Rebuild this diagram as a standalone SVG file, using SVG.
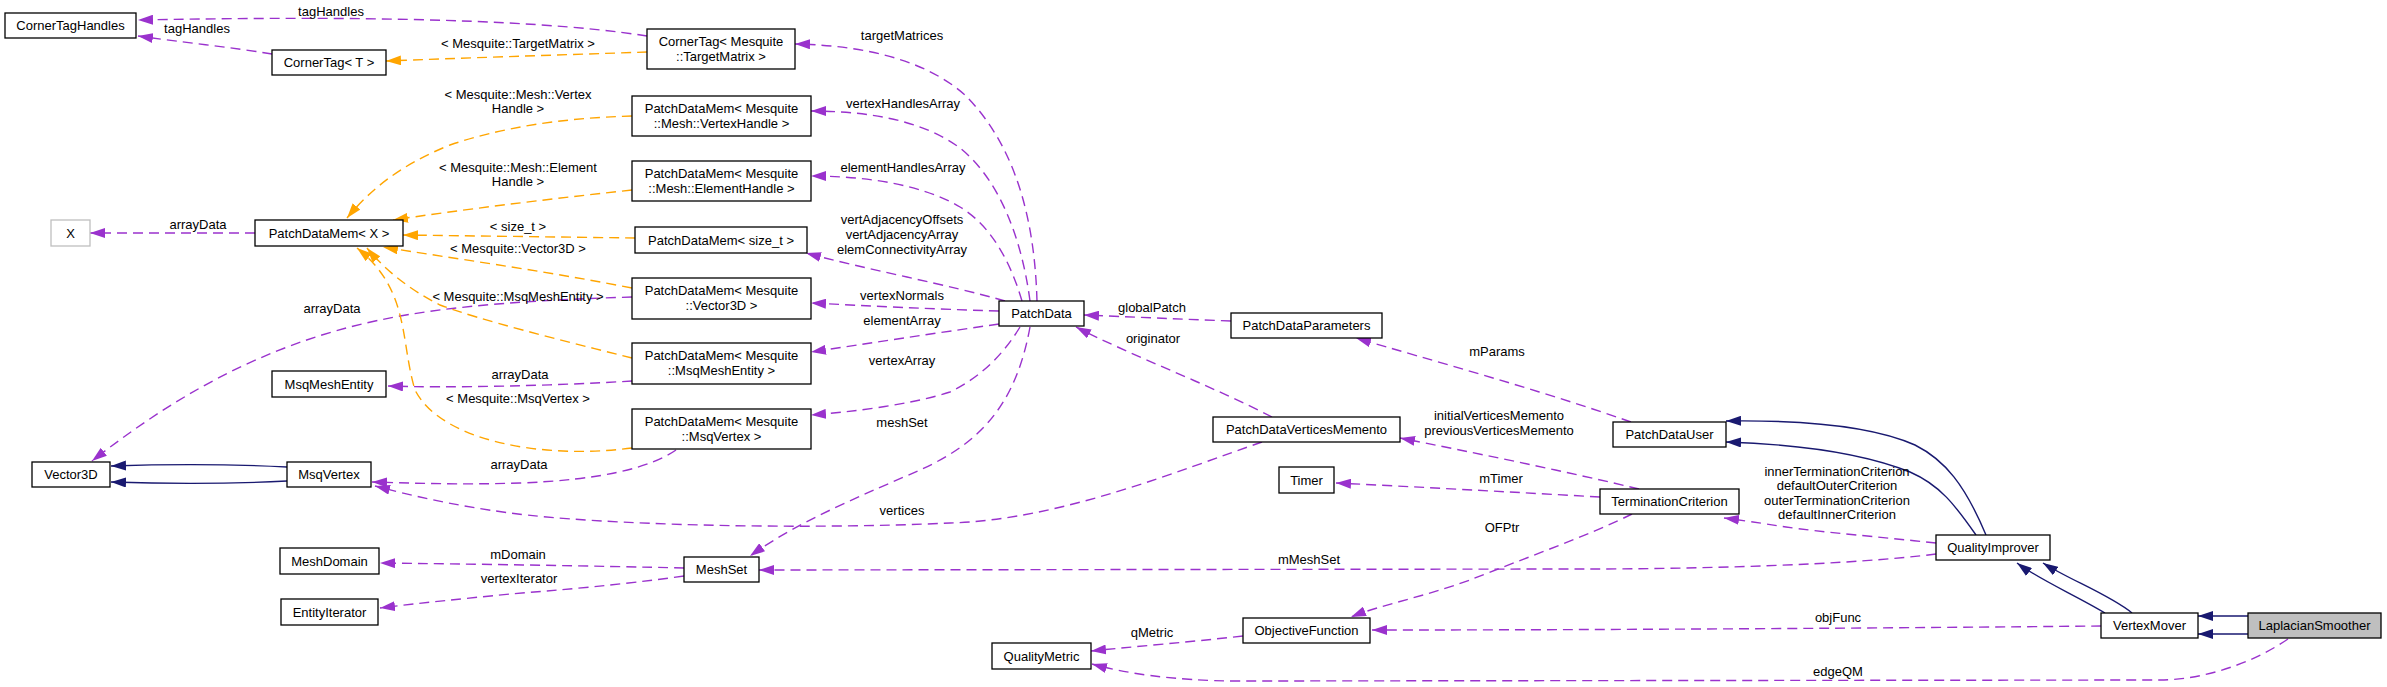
<svg xmlns="http://www.w3.org/2000/svg" width="2387" height="687" viewBox="0 0 2387 687">
<style>
text{font-family:"Liberation Sans",Arial,sans-serif;font-size:13px;fill:#000}
.n rect{fill:#fff;stroke:#000;stroke-width:1.3}
.n text{text-anchor:middle}
.l{text-anchor:middle}
.p{fill:none;stroke:#9a32cd;stroke-width:1.4;stroke-dasharray:10,6}
.o{fill:none;stroke:#ffa500;stroke-width:1.4;stroke-dasharray:10,6}
.b{fill:none;stroke:#191970;stroke-width:1.4}
</style>
<defs>
<marker id="ap" viewBox="0 0 15 10" refX="15" refY="5" markerWidth="15" markerHeight="10" markerUnits="userSpaceOnUse" orient="auto"><path d="M0,0 L15,5 L0,10 z" fill="#9a32cd"/></marker>
<marker id="ao" viewBox="0 0 15 10" refX="15" refY="5" markerWidth="15" markerHeight="10" markerUnits="userSpaceOnUse" orient="auto"><path d="M0,0 L15,5 L0,10 z" fill="#ffa500"/></marker>
<marker id="ab" viewBox="0 0 15 10" refX="15" refY="5" markerWidth="15" markerHeight="10" markerUnits="userSpaceOnUse" orient="auto"><path d="M0,0 L15,5 L0,10 z" fill="#191970"/></marker>
</defs>
<rect width="2387" height="687" fill="#fff"/>
<g id="connectors">
<path class="p" marker-end="url(#ap)" d="M647,36 C520,16 300,17 138,20"/>
<path class="p" marker-end="url(#ap)" d="M272,54 C230,47 180,42 138,36"/>
<path class="o" marker-end="url(#ao)" d="M647,52 C560,55 460,58 386,61"/>
<path class="p" marker-end="url(#ap)" d="M1037,301 C1035,230 1020,150 965,95 C920,55 850,45 795,44"/>
<path class="p" marker-end="url(#ap)" d="M1030,301 C1022,240 1000,180 960,148 C920,118 860,111 811,111"/>
<path class="p" marker-end="url(#ap)" d="M1022,301 C1010,260 990,225 960,207 C920,183 860,176 811,176"/>
<path class="p" marker-end="url(#ap)" d="M1005,301 C950,285 860,268 806,253"/>
<path class="p" marker-end="url(#ap)" d="M999,311 C930,309 870,306 811,303"/>
<path class="p" marker-end="url(#ap)" d="M999,324 C930,334 870,343 811,352"/>
<path class="p" marker-end="url(#ap)" d="M1020,327 C1000,360 975,380 950,392 C910,405 850,412 811,415"/>
<path class="p" marker-end="url(#ap)" d="M1030,327 C1015,410 975,445 920,470 C870,492 800,520 750,556"/>
<path class="p" marker-end="url(#ap)" d="M632,297 C540,300 450,305 380,320 C260,345 170,400 92,461"/>
<path class="p" marker-end="url(#ap)" d="M632,381 C550,386 450,388 388,386"/>
<path class="p" marker-end="url(#ap)" d="M676,450 C650,468 600,480 520,483 C460,485 410,483 372,482"/>
<path class="p" marker-end="url(#ap)" d="M1262,442 C1180,470 1060,520 950,523 C800,530 600,525 510,513 C450,505 410,495 375,486"/>
<path class="p" marker-end="url(#ap)" d="M684,568 C600,566 470,564 380,563"/>
<path class="p" marker-end="url(#ap)" d="M684,576 C620,585 560,590 510,594 C460,599 420,603 380,608"/>
<path class="p" marker-end="url(#ap)" d="M1231,321 C1180,319 1130,317 1084,315"/>
<path class="p" marker-end="url(#ap)" d="M1272,417 C1210,385 1130,355 1076,327"/>
<path class="p" marker-end="url(#ap)" d="M1631,422 C1540,390 1430,360 1356,338"/>
<path class="p" marker-end="url(#ap)" d="M1639,489 C1560,470 1470,452 1400,438"/>
<path class="p" marker-end="url(#ap)" d="M1600,497 C1510,492 1420,487 1336,483"/>
<path class="p" marker-end="url(#ap)" d="M1632,514 C1590,535 1520,560 1470,580 C1420,598 1380,605 1351,617"/>
<path class="p" marker-end="url(#ap)" d="M1243,636 C1190,642 1140,646 1091,651"/>
<path class="p" marker-end="url(#ap)" d="M1936,543 C1880,537 1820,532 1786,527 C1760,523 1740,520 1724,518"/>
<path class="p" marker-end="url(#ap)" d="M1936,554 C1850,565 1700,569 1580,569 L759,570"/>
<path class="p" marker-end="url(#ap)" d="M2101,626 C1900,628 1600,630 1372,630"/>
<path class="p" marker-end="url(#ap)" d="M2288,639 C2250,665 2200,680 2160,680 L1240,681 C1170,681 1120,672 1092,664"/>
<path class="p" marker-end="url(#ap)" d="M255,233 L90,233"/>
<path class="o" marker-end="url(#ao)" d="M632,116 C560,118 500,128 450,145 C400,165 370,190 347,218"/>
<path class="o" marker-end="url(#ao)" d="M632,190 C540,200 460,210 393,220"/>
<path class="o" marker-end="url(#ao)" d="M635,238 C560,237 480,236 403,235"/>
<path class="o" marker-end="url(#ao)" d="M632,288 C540,270 450,258 383,247"/>
<path class="o" marker-end="url(#ao)" d="M632,358 C560,340 480,320 440,305 C410,290 385,270 367,248"/>
<path class="o" marker-end="url(#ao)" d="M632,448 C540,460 440,440 415,390 C400,340 410,290 357,248"/>
<path class="b" marker-end="url(#ab)" d="M1986,535 C1965,485 1945,460 1915,445 C1870,425 1800,420 1726,421"/>
<path class="b" marker-end="url(#ab)" d="M1976,535 C1955,505 1940,485 1910,472 C1860,452 1790,444 1726,442"/>
<path class="b" marker-end="url(#ab)" d="M2105,613 C2075,595 2040,580 2017,563"/>
<path class="b" marker-end="url(#ab)" d="M2132,613 C2110,595 2070,580 2043,563"/>
<path class="b" marker-end="url(#ab)" d="M2248,616 L2198,616"/>
<path class="b" marker-end="url(#ab)" d="M2248,634 L2198,634"/>
<path class="b" marker-end="url(#ab)" d="M287,467 C230,464 170,464 111,466"/>
<path class="b" marker-end="url(#ab)" d="M287,481 C230,484 170,484 111,482"/>
</g>
<g id="edge-labels">
<text class="l" x="331" y="16">tagHandles</text>
<text class="l" x="197" y="33">tagHandles</text>
<text class="l" x="518" y="48">&lt; Mesquite::TargetMatrix &gt;</text>
<text class="l" x="902" y="40">targetMatrices</text>
<text class="l" x="903" y="108">vertexHandlesArray</text>
<text class="l" x="903" y="172">elementHandlesArray</text>
<text class="l" x="902" y="224">vertAdjacencyOffsets</text>
<text class="l" x="902" y="239">vertAdjacencyArray</text>
<text class="l" x="902" y="254">elemConnectivityArray</text>
<text class="l" x="902" y="300">vertexNormals</text>
<text class="l" x="902" y="325">elementArray</text>
<text class="l" x="902" y="365">vertexArray</text>
<text class="l" x="902" y="427">meshSet</text>
<text class="l" x="332" y="313">arrayData</text>
<text class="l" x="520" y="379">arrayData</text>
<text class="l" x="519" y="469">arrayData</text>
<text class="l" x="902" y="515">vertices</text>
<text class="l" x="518" y="559">mDomain</text>
<text class="l" x="519" y="583">vertexIterator</text>
<text class="l" x="1152" y="312">globalPatch</text>
<text class="l" x="1153" y="343">originator</text>
<text class="l" x="1497" y="356">mParams</text>
<text class="l" x="1499" y="420">initialVerticesMemento</text>
<text class="l" x="1499" y="435">previousVerticesMemento</text>
<text class="l" x="1501" y="483">mTimer</text>
<text class="l" x="1502" y="532">OFPtr</text>
<text class="l" x="1152" y="637">qMetric</text>
<text class="l" x="1837" y="476">innerTerminationCriterion</text>
<text class="l" x="1837" y="490">defaultOuterCriterion</text>
<text class="l" x="1837" y="505">outerTerminationCriterion</text>
<text class="l" x="1837" y="519">defaultInnerCriterion</text>
<text class="l" x="1309" y="564">mMeshSet</text>
<text class="l" x="1838" y="622">objFunc</text>
<text class="l" x="1838" y="676">edgeQM</text>
<text class="l" x="198" y="229">arrayData</text>
<text class="l" x="518" y="99">&lt; Mesquite::Mesh::Vertex</text>
<text class="l" x="518" y="113">Handle &gt;</text>
<text class="l" x="518" y="172">&lt; Mesquite::Mesh::Element</text>
<text class="l" x="518" y="186">Handle &gt;</text>
<text class="l" x="518" y="231">&lt; size_t &gt;</text>
<text class="l" x="518" y="253">&lt; Mesquite::Vector3D &gt;</text>
<text class="l" x="518" y="301">&lt; Mesquite::MsqMeshEntity &gt;</text>
<text class="l" x="518" y="403">&lt; Mesquite::MsqVertex &gt;</text>
</g>
<g id="CornerTagHandles" class="n"><rect x="5" y="13" width="131" height="25"/><text x="70.5" y="30">CornerTagHandles</text></g>
<g id="CornerTagT" class="n"><rect x="272" y="50" width="114" height="25"/><text x="329" y="67">CornerTag&lt; T &gt;</text></g>
<g id="CornerTagTargetMatrix" class="n"><rect x="647" y="29" width="148" height="40"/><text x="721" y="45.5">CornerTag&lt; Mesquite</text><text x="721" y="60.5">::TargetMatrix &gt;</text></g>
<g id="PDMVertexHandle" class="n"><rect x="632" y="96" width="179" height="40"/><text x="721.5" y="112.5">PatchDataMem&lt; Mesquite</text><text x="721.5" y="127.5">::Mesh::VertexHandle &gt;</text></g>
<g id="PDMElementHandle" class="n"><rect x="632" y="161" width="179" height="40"/><text x="721.5" y="177.5">PatchDataMem&lt; Mesquite</text><text x="721.5" y="192.5">::Mesh::ElementHandle &gt;</text></g>
<g id="X" class="n"><rect x="51" y="220" width="39" height="26" style="stroke:#bfbfbf"/><text x="70.5" y="238">X</text></g>
<g id="PDMX" class="n"><rect x="255" y="220" width="148" height="26"/><text x="329" y="238">PatchDataMem&lt; X &gt;</text></g>
<g id="PDMsize_t" class="n"><rect x="635" y="227" width="172" height="26"/><text x="721" y="245">PatchDataMem&lt; size_t &gt;</text></g>
<g id="PDMVector3D" class="n"><rect x="632" y="278" width="179" height="41"/><text x="721.5" y="295">PatchDataMem&lt; Mesquite</text><text x="721.5" y="310">::Vector3D &gt;</text></g>
<g id="PDMMsqMeshEntity" class="n"><rect x="632" y="343" width="179" height="41"/><text x="721.5" y="360">PatchDataMem&lt; Mesquite</text><text x="721.5" y="375">::MsqMeshEntity &gt;</text></g>
<g id="MsqMeshEntity" class="n"><rect x="272" y="371" width="114" height="26"/><text x="329" y="389">MsqMeshEntity</text></g>
<g id="PDMMsqVertex" class="n"><rect x="632" y="409" width="179" height="40"/><text x="721.5" y="425.5">PatchDataMem&lt; Mesquite</text><text x="721.5" y="440.5">::MsqVertex &gt;</text></g>
<g id="Vector3D" class="n"><rect x="32" y="462" width="78" height="25"/><text x="71" y="479">Vector3D</text></g>
<g id="MsqVertex" class="n"><rect x="287" y="462" width="84" height="25"/><text x="329" y="479">MsqVertex</text></g>
<g id="MeshDomain" class="n"><rect x="280" y="548" width="99" height="26"/><text x="329.5" y="566">MeshDomain</text></g>
<g id="MeshSet" class="n"><rect x="684" y="557" width="75" height="25"/><text x="721.5" y="574">MeshSet</text></g>
<g id="EntityIterator" class="n"><rect x="281" y="599" width="97" height="26"/><text x="329.5" y="617">EntityIterator</text></g>
<g id="PatchData" class="n"><rect x="999" y="301" width="85" height="25"/><text x="1041.5" y="318">PatchData</text></g>
<g id="PatchDataParameters" class="n"><rect x="1231" y="313" width="151" height="25"/><text x="1306.5" y="330">PatchDataParameters</text></g>
<g id="PatchDataVerticesMemento" class="n"><rect x="1213" y="417" width="187" height="25"/><text x="1306.5" y="434">PatchDataVerticesMemento</text></g>
<g id="Timer" class="n"><rect x="1279" y="467" width="55" height="26"/><text x="1306.5" y="485">Timer</text></g>
<g id="ObjectiveFunction" class="n"><rect x="1243" y="618" width="127" height="25"/><text x="1306.5" y="635">ObjectiveFunction</text></g>
<g id="QualityMetric" class="n"><rect x="992" y="643" width="99" height="26"/><text x="1041.5" y="661">QualityMetric</text></g>
<g id="PatchDataUser" class="n"><rect x="1613" y="422" width="113" height="25"/><text x="1669.5" y="439">PatchDataUser</text></g>
<g id="TerminationCriterion" class="n"><rect x="1600" y="489" width="139" height="25"/><text x="1669.5" y="506">TerminationCriterion</text></g>
<g id="QualityImprover" class="n"><rect x="1936" y="535" width="114" height="25"/><text x="1993" y="552">QualityImprover</text></g>
<g id="VertexMover" class="n"><rect x="2101" y="613" width="97" height="25"/><text x="2149.5" y="630">VertexMover</text></g>
<g id="LaplacianSmoother" class="n"><rect x="2248" y="613" width="133" height="25" style="fill:#bfbfbf"/><text x="2314.5" y="630">LaplacianSmoother</text></g>
</svg>
